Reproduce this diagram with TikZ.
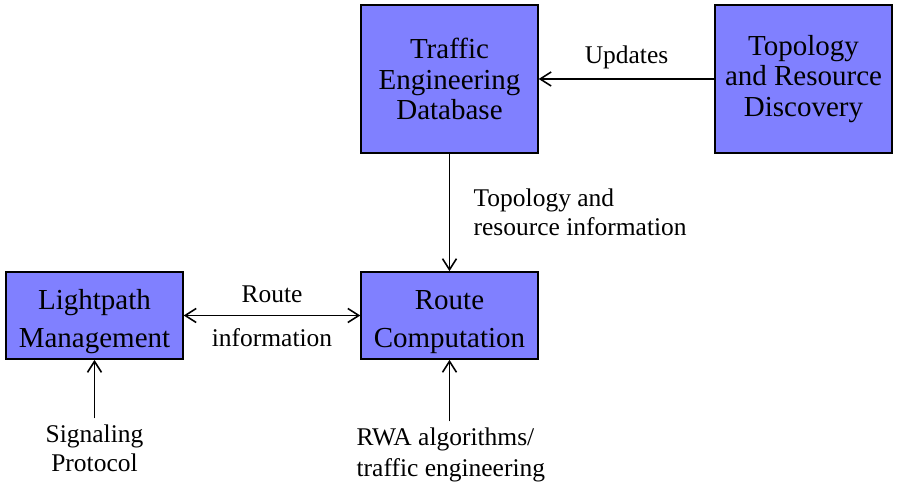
\documentclass[tikz,border=0pt]{standalone}
\usepackage{fontspec}
\setmainfont{Liberation Serif}
\usetikzlibrary{arrows.meta}
\definecolor{boxblue}{HTML}{8080FF}
\tikzset{
  block/.style={draw, line width=0.8pt, fill=boxblue, align=center,
    font=\fontsize{16.5}{17.5}\selectfont, minimum width=3.54cm},
  wideblock/.style={block, font=\fontsize{16.5}{21.5}\selectfont, text height=39.5pt},
  lbl/.style={font=\fontsize{14.5}{16.5}\selectfont},
}
\begin{document}
\begin{tikzpicture}[>={Straight Barb[length=2.2mm,width=2.8mm]}, line width=0.9pt]
        \useasboundingbox (0,0) rectangle (17.96,9.74);
        \node[block, minimum height=2.96cm] (ted) at (8.99,8.16) {Traffic\\Engineering\\Database};
        \node[block, minimum height=2.96cm] (trd) at (16.07,8.16) {Topology\\and Resource\\Discovery};
        \node[wideblock, minimum height=1.74cm] (lm) at (1.89,3.43) {Lightpath\\Management};
        \node[wideblock, minimum height=1.74cm] (rc) at (8.99,3.43) {Route\\Computation};
        \node[lbl, align=center] (sig) at (1.89,0.77) {Signaling\\Protocol};
        \node[lbl, align=left, anchor=west, font=\fontsize{14.5}{17.5}\selectfont] (rwa) at (7.0,0.64) {RWA algorithms/\\traffic engineering};
        \draw[->] (trd) -- (ted) node[lbl, midway, above=2pt] {Updates};
        \draw[->] (ted) -- (rc) node[lbl, midway, right=0.35cm, align=left] {Topology and\\resource information};
        \draw[<->] (lm) -- (rc) node[lbl, midway, above=0.13cm] {Route} node[lbl, midway, below=0.12cm] {information};
        \draw[->] (sig.north) -- (lm.south);
        \draw[->] (rwa.north -| rc.south) -- (rc.south);
    \end{tikzpicture}
\end{document}
